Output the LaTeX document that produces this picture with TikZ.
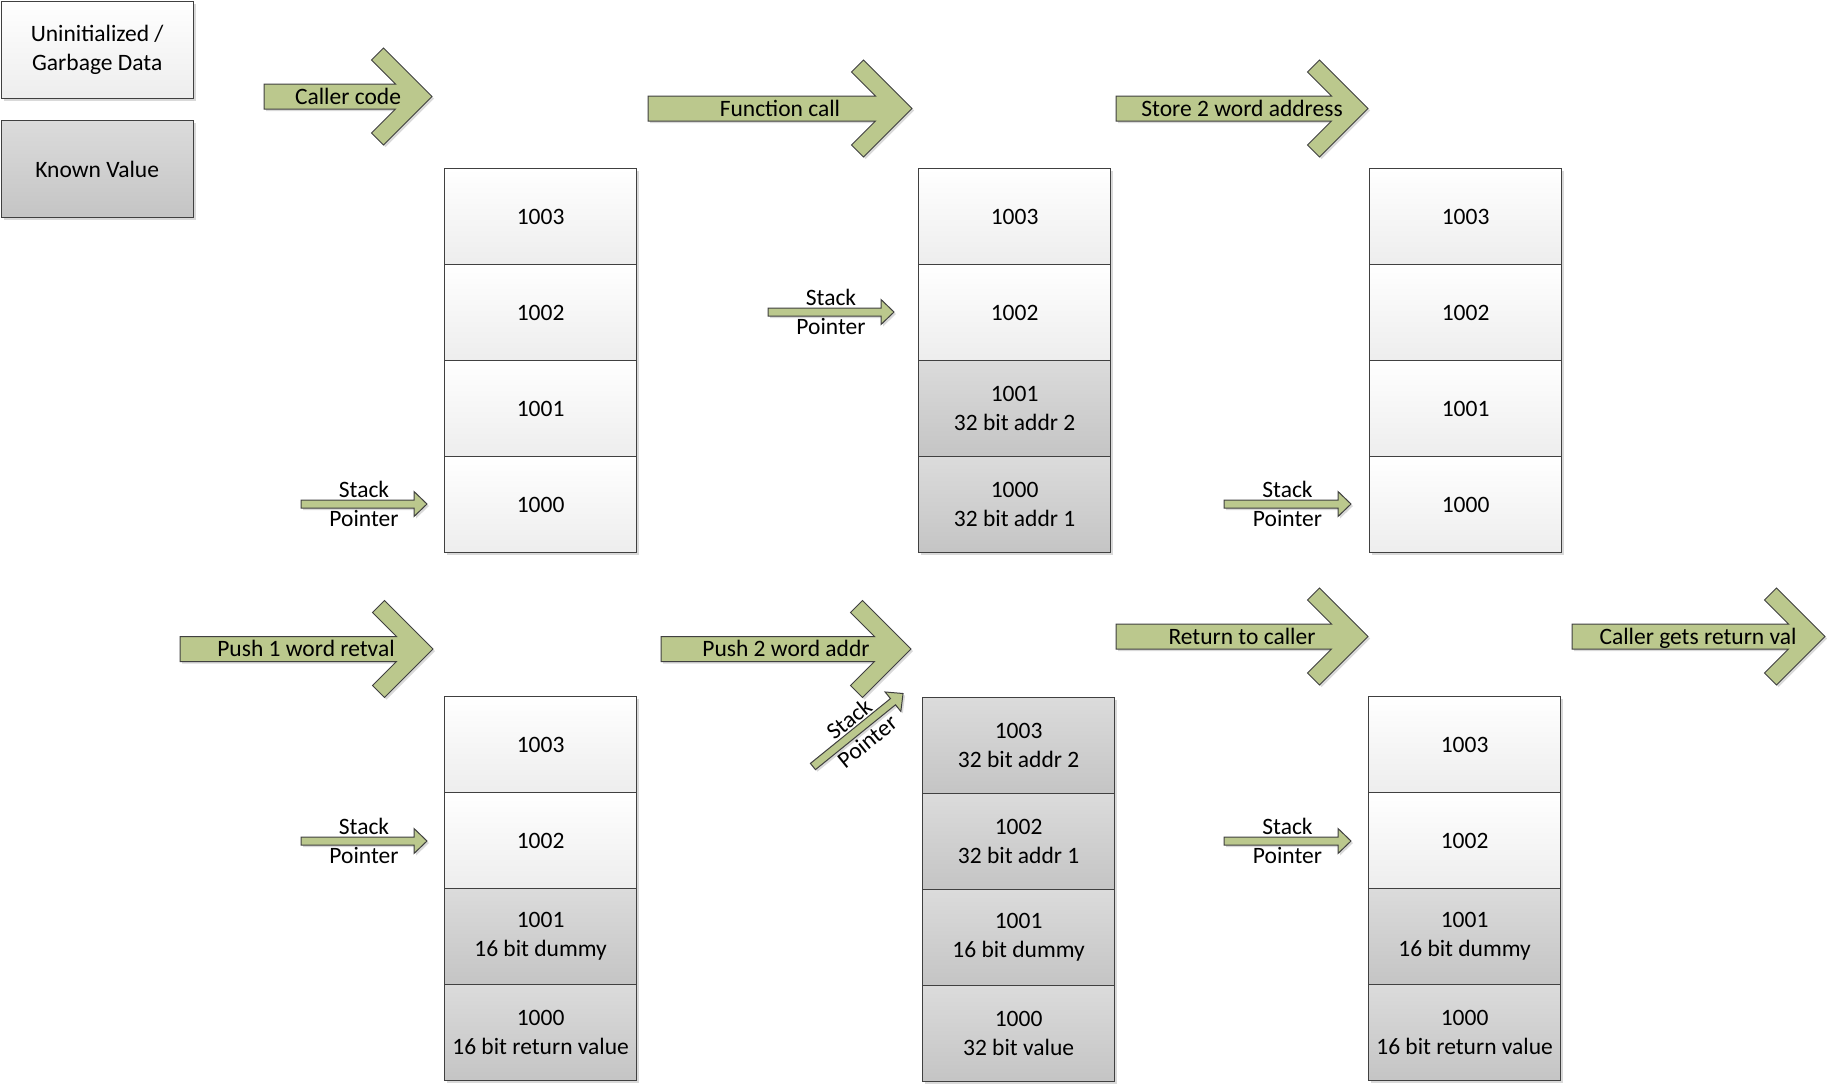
\documentclass[tikz,border=0pt]{standalone}
\usepackage{fontspec}
\setmainfont{Carlito}
\usetikzlibrary{shadows}
\definecolor{arrgreen}{RGB}{187,200,141}
\definecolor{edgegray}{RGB}{64,64,64}
\tikzset{
  txtfont/.style={font=\fontsize{11.75}{14.4}\selectfont},
  cellbase/.style={draw=edgegray, line width=0.6pt, minimum width=96pt, minimum height=48pt,
    inner sep=0pt, anchor=north west, align=center, txtfont,
    drop shadow={shadow xshift=1.2pt, shadow yshift=-1.2pt, fill=black!15, opacity=1}},
  ucell/.style={cellbase, top color=white, bottom color=black!7},
  kcell/.style={cellbase, top color=black!14, bottom color=black!23},
  blockarrow/.style={fill=arrgreen, draw=edgegray, line width=0.5pt,
    drop shadow={shadow xshift=1pt, shadow yshift=-1pt, fill=black!15, opacity=1}},
  lbl/.style={txtfont, align=center, inner sep=0pt, text height=8.2pt, text depth=0.6pt},
  splbl/.style={txtfont, align=center, inner sep=0pt},
}
% #1 name, #2 x start, #3 x tip, #4 y centre, #5 text x, #6 text
\newcommand{\BigArr}[6]{%
  \filldraw[blockarrow] ({#2},{#4-12.5}) -- ({#3-36.5},{#4-12.5}) -- ({#3-60.5},{#4-36.5})
    -- ({#3-48.5},{#4-48.5}) -- ({#3},{#4}) -- ({#3-48.5},{#4+48.5}) -- ({#3-60.5},{#4+36.5})
    -- ({#3-36.5},{#4+12.5}) -- ({#2},{#4+12.5}) -- cycle;
  \node[lbl] (#1) at ({#5},{#4}) {#6};
}
% #1 name, #2 x start, #3 x tip, #4 y centre
\newcommand{\SPArr}[4]{%
  \filldraw[blockarrow] ({#2},{#4-4}) -- ({#3-13},{#4-4}) -- ({#3-13},{#4-12.5}) -- ({#3},{#4})
    -- ({#3-13},{#4+12.5}) -- ({#3-13},{#4+4}) -- ({#2},{#4+4}) -- cycle;
  \node[splbl] (#1) at ({(#2+#3)/2},{#4}) {Stack\\Pointer};
}
\begin{document}
\begin{tikzpicture}[x=0.5pt,y=-0.5pt]
\useasboundingbox (0,0) rectangle (1827,1083);

% legend
\node[ucell, minimum height=48.5pt] (legU) at (0.6,0.6) {Uninitialized /\\Garbage Data};
\node[kcell, minimum height=48.5pt] (legK) at (0.6,120) {Known Value};

% top row arrows
\BigArr{aCaller}{264}{432}{96.5}{348}{Caller code}
\BigArr{aFunc}{648}{912}{108.5}{780}{Function call}
\BigArr{aStore}{1116}{1368}{108.5}{1242}{Store 2 word address}

% top column 1
\node[ucell] (ta3) at (444,168) {1003};
\node[ucell] (ta2) at (444,264) {1002};
\node[ucell] (ta1) at (444,360) {1001};
\node[ucell] (ta0) at (444,456) {1000};
\SPArr{spA}{301}{427}{504}

% top column 2
\node[ucell] (tb3) at (918,168) {1003};
\node[ucell] (tb2) at (918,264) {1002};
\node[kcell] (tb1) at (918,360) {1001\\32 bit addr 2};
\node[kcell] (tb0) at (918,456) {1000\\32 bit addr 1};
\SPArr{spB}{768}{894}{312}

% top column 3
\node[ucell] (tc3) at (1369,168) {1003};
\node[ucell] (tc2) at (1369,264) {1002};
\node[ucell] (tc1) at (1369,360) {1001};
\node[ucell] (tc0) at (1369,456) {1000};
\SPArr{spC}{1224}{1351}{504}

% bottom row arrows
\BigArr{aPush1}{180}{433}{649}{306}{Push 1 word retval}
\BigArr{aPush2}{661}{911}{649}{786}{Push 2 word addr}
\BigArr{aRet}{1116}{1368}{636.5}{1242}{Return to caller}
\BigArr{aGets}{1572}{1825}{636.5}{1698}{Caller gets return val}

% bottom column 1
\node[ucell] (ba3) at (444,696) {1003};
\node[ucell] (ba2) at (444,792) {1002};
\node[kcell] (ba1) at (444,888) {1001\\16 bit dummy};
\node[kcell] (ba0) at (444,984) {1000\\16 bit return value};
\SPArr{spD}{301}{427}{841}

% bottom column 2
\node[kcell] (bb3) at (922,697) {1003\\32 bit addr 2};
\node[kcell] (bb2) at (922,793) {1002\\32 bit addr 1};
\node[kcell] (bb1) at (922,889) {1001\\16 bit dummy};
\node[kcell] (bb0) at (922,985) {1000\\32 bit value};
\begin{scope}[shift={(858,730)}, rotate=39, transform shape]
  \SPArr{spE}{-58}{58}{0}
\end{scope}

% bottom column 3
\node[ucell] (bc3) at (1368,696) {1003};
\node[ucell] (bc2) at (1368,792) {1002};
\node[kcell] (bc1) at (1368,888) {1001\\16 bit dummy};
\node[kcell] (bc0) at (1368,984) {1000\\16 bit return value};
\SPArr{spF}{1224}{1351}{841}
\end{tikzpicture}
\end{document}
